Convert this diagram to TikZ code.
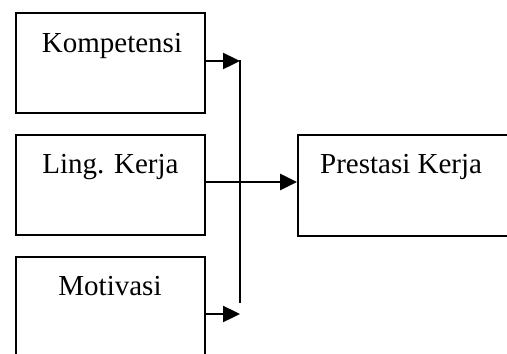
\documentclass[tikz,border=0pt]{standalone}
\usepackage{fontspec}
\setmainfont{Liberation Serif}
\usetikzlibrary{arrows.meta}
\begin{document}
\begin{tikzpicture}[x=1pt,y=-1pt,
  boxstyle/.style={draw, line width=1.8pt, rectangle, inner sep=0pt},
  lbl/.style={anchor=base, inner sep=0pt, font=\fontsize{29}{34}\selectfont},
  conn/.style={line width=2.4pt},
  arr/.style={conn, -{Triangle[length=17pt,width=16pt]}}]
\useasboundingbox (0,0) rectangle (507,354);
\clip (0,0) rectangle (507,354);
% boxes
\node[boxstyle, minimum width=189pt, minimum height=100pt] (komp) at (110.5,63) {};
\node[boxstyle, minimum width=189pt, minimum height=100pt] (ling) at (110.5,185) {};
\node[boxstyle, minimum width=189pt, minimum height=100pt] (moti) at (110.5,307) {};
\node[boxstyle, minimum width=222pt, minimum height=101pt] (pres) at (409,185.5) {};
% texts
\node[lbl] (tkomp) at (112,52) {Kompetensi};
\node[lbl] (tling) at (110.5,173) {Ling. Kerja};
\node[lbl] (tmoti) at (110,295) {Motivasi};
\node[lbl, anchor=base west] (tpres) at (320,173) {Prestasi Kerja};
% junction coordinates
\coordinate (jtop) at (240,61);
\coordinate (jbot) at (240,303);
\coordinate (jmot) at (240,314);
% connectors
\draw[arr] (komp.east |- jtop) -- (jtop);
\draw[conn] (240,60) -- (jbot);
\draw[arr] (ling.east |- 0,182) -- (pres.west |- 0,182);
\draw[arr] (moti.east |- jmot) -- (jmot);
\end{tikzpicture}
\end{document}
